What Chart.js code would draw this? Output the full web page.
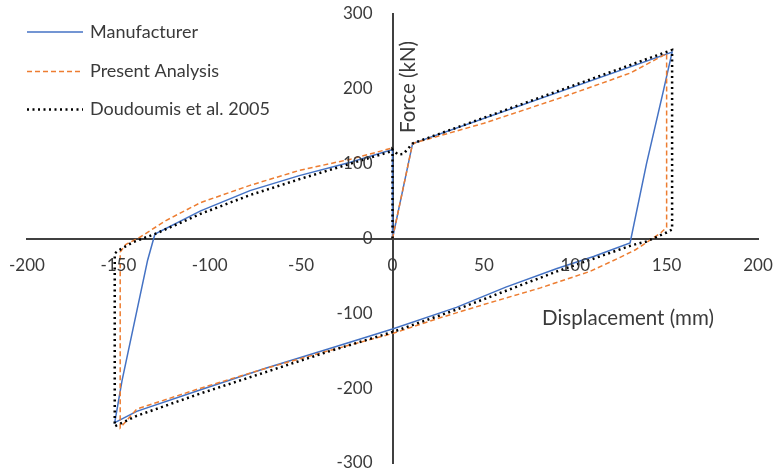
<!DOCTYPE html>
<html>
<head>
<meta charset="utf-8">
<script src="https://cdn.jsdelivr.net/npm/chart.js@4.4.1/dist/chart.umd.min.js"></script>
<style>
  html, body { margin: 0; padding: 0; background: #fff; }
  #wrap { width: 775px; height: 470px; position: relative; }
</style>
</head>
<body>
<div id="wrap"><canvas id="myChart"></canvas></div>
<script>
// hysteresis loops, displacement (mm) vs force (kN)
const xTicks = [-200, -150, -100, -50, 0, 50, 100, 150, 200];
const yTicks = [-300, -200, -100, 0, 100, 200, 300];

const manufacturerX = [0, 11, 153, 148, 139, 130, 110, 90, 62, 35, 0, -33, -69, -105, -140, -152, -148, -134, -130, -105, -78, -51, -23, 0, 0];
const manufacturerY = [0, 127, 249, 195, 100, -6, -24, -40, -65, -92, -121, -146, -173, -202, -231, -246, -190, -29, 6, 37, 64, 84, 102, 119, 0];

const presentX = [0, 11, 50, 92, 130, 150, 150, 147, 141, 133, 123, 108, 81, 53, 26, 0, -35, -70, -105, -140, -149, -149, -146, -138, -124, -105, -78, -51, -23, 0];
const presentY = [0, 127, 154, 188, 221, 247, 15, 8, -2, -15, -27, -44, -66, -86, -106, -127, -150, -174, -200, -228, -253, -18, -8, 2, 24, 48, 71, 91, 106, 121];

const doudoumisX = [0, 0, 3, 6, 11, 153, 153, 150, 139, 131, 90, 35, 0, -35, -70, -105, -140, -152, -152, -150, -142, -129, -105, -78, -50, -23, 0];
const doudoumisY = [0, 119, 112, 113, 127, 252, 12, 8, -4, -9, -44, -95, -125, -151, -179, -207, -237, -251, -20, -16, -5, 7, 33, 58, 80, 100, 117];

function toPoints(xs, ys) {
    return xs.map((x, i) => ({ x: x, y: ys[i] }));
}

const font = "Lato, 'Noto Sans', sans-serif";
const textColor = '#3a3a3a';
const axisColor = '#404040';

// legend stacked at top left, drawn from the dataset styles
const sideLegend = {
    id: 'sideLegend',
    afterDraw(chart) {
        const ctx = chart.ctx;
        const rows = [32, 71.5, 109.5];
        ctx.save();
        ctx.font = '18px ' + font;
        ctx.textBaseline = 'middle';
        ctx.fillStyle = textColor;
        chart.data.datasets.forEach((ds, i) => {
            const y = rows[i];
            ctx.beginPath();
            ctx.strokeStyle = ds.borderColor;
            ctx.lineWidth = ds.borderWidth;
            ctx.setLineDash(ds.borderDash || []);
            ctx.moveTo(27, y);
            ctx.lineTo(83, y);
            ctx.stroke();
            ctx.setLineDash([]);
            ctx.fillText(ds.label, 90, y);
        });
        ctx.restore();
    }
};

// tick labels hang off the crossing axes: below the x axis, left of the y axis
const tickLabels = {
    id: 'tickLabels',
    afterDraw(chart) {
        const ctx = chart.ctx;
        const xs = chart.scales.x, ys = chart.scales.y;
        const x0 = xs.getPixelForValue(0);
        const y0 = ys.getPixelForValue(0);
        ctx.save();
        ctx.font = '17px ' + font;
        ctx.fillStyle = textColor;
        ctx.textBaseline = 'middle';
        ctx.textAlign = 'center';
        xTicks.forEach(v => ctx.fillText(String(v), xs.getPixelForValue(v), y0 + 27));
        ctx.textAlign = 'right';
        yTicks.forEach(v => ctx.fillText(String(v), x0 - 20, ys.getPixelForValue(v)));
        ctx.restore();
    }
};

// axis titles sit next to the crossing axes
const axisTitles = {
    id: 'axisTitles',
    afterDraw(chart) {
        const ctx = chart.ctx;
        ctx.save();
        ctx.font = '20.5px ' + font;
        ctx.fillStyle = textColor;
        ctx.textBaseline = 'middle';
        ctx.textAlign = 'left';
        ctx.fillText('Displacement (mm)', 542, 318);
        ctx.translate(408, 87);
        ctx.rotate(-Math.PI / 2);
        ctx.textAlign = 'center';
        ctx.fillText('Force (kN)', 0, 0);
        ctx.restore();
    }
};

const ctx = document.getElementById('myChart').getContext('2d');
new Chart(ctx, {
    type: 'scatter',
    data: {
        datasets: [{
            label: 'Manufacturer',
            data: toPoints(manufacturerX, manufacturerY),
            borderColor: '#4472C4',
            borderWidth: 1.5,
            order: 3
        }, {
            label: 'Present Analysis',
            data: toPoints(presentX, presentY),
            borderColor: '#ED7D31',
            borderWidth: 1.5,
            borderDash: [5, 3],
            order: 2
        }, {
            label: 'Doudoumis et al. 2005',
            data: toPoints(doudoumisX, doudoumisY),
            borderColor: '#000000',
            borderWidth: 2.5,
            borderDash: [2, 3.5],
            order: 1
        }]
    },
    options: {
        responsive: true,
        maintainAspectRatio: false,
        animation: false,
        showLine: true,
        elements: {
            point: { radius: 0, hoverRadius: 0 },
            line: { tension: 0, fill: false }
        },
        layout: {
            padding: { left: 27, right: 17, top: 14, bottom: 7 }
        },
        plugins: {
            legend: { display: false },
            tooltip: { enabled: false }
        },
        scales: {
            x: {
                type: 'linear',
                position: { y: 0 },
                min: -200,
                max: 200,
                afterBuildTicks: axis => { axis.ticks = xTicks.map(v => ({ value: v })); },
                grid: { display: false, drawTicks: false },
                border: { display: true, color: axisColor, width: 2 },
                ticks: { display: false }
            },
            y: {
                type: 'linear',
                position: { x: 0 },
                min: -300,
                max: 300,
                afterBuildTicks: axis => { axis.ticks = yTicks.map(v => ({ value: v })); },
                grid: { display: false, drawTicks: false },
                border: { display: true, color: axisColor, width: 2 },
                ticks: { display: false }
            }
        }
    },
    plugins: [sideLegend, tickLabels, axisTitles]
});
</script>
</body>
</html>
